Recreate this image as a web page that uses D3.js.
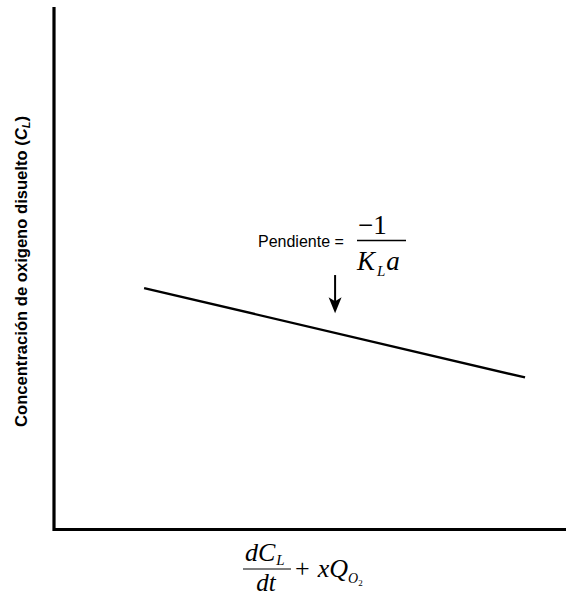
<!DOCTYPE html>
<html><head><meta charset="utf-8">
<script src="https://cdn.jsdelivr.net/npm/d3@7"></script>
<style>body{margin:0;background:#fff}svg{display:block}</style>
</head><body>
<script>
// Schematic data (no ticks in the reference)
const lineX = [1.76, 9.2];
const lineY = [4.62, 2.91];
const arrowX = [5.49];
const arrowY = [4.87, 4.14];
const yLabel = "Concentración de oxigeno disuelto (";
const annotationText = "Pendiente = ";

const W = 566, H = 598;
const svg = d3.select("body").append("svg").attr("width", W).attr("height", H);
const x = d3.scaleLinear().domain([0, 10]).range([54, 566]);
const y = d3.scaleLinear().domain([0, 10]).range([529.5, 7]);

// axes (L shape)
svg.append("path")
  .attr("d", `M${x(0)},${y(10)} V${y(0)} H${x(10)}`)
  .attr("fill", "none").attr("stroke", "#000").attr("stroke-width", 3.2);

// line
svg.append("line")
  .attr("x1", x(lineX[0])).attr("y1", y(lineY[0]))
  .attr("x2", x(lineX[1])).attr("y2", y(lineY[1]))
  .attr("stroke", "#000").attr("stroke-width", 2.4);

// arrow
const ax = x(arrowX[0]);
svg.append("line").attr("x1", ax).attr("x2", ax)
  .attr("y1", y(arrowY[0])).attr("y2", y(arrowY[1]) - 10)
  .attr("stroke", "#000").attr("stroke-width", 2);
svg.append("path")
  .attr("d", `M${ax-6.5},${y(arrowY[1])-16} L${ax},${y(arrowY[1])} L${ax+6.5},${y(arrowY[1])-16} L${ax},${y(arrowY[1])-12} Z`)
  .attr("fill", "#000");

// annotation text
svg.append("text").attr("x", 258).attr("y", 247)
  .attr("font-family", "Liberation Sans, Arial, sans-serif").attr("font-size", 16)
  .text(annotationText);
const serif = "Liberation Serif, Times New Roman, serif";
// fraction -1 / K_L a
svg.append("text").attr("x", 358).attr("y", 234)
  .attr("font-family", serif).attr("font-size", 27).text("\u22121");
svg.append("line").attr("x1", 357).attr("x2", 406).attr("y1", 240.5).attr("y2", 240.5)
  .attr("stroke", "#000").attr("stroke-width", 1.3);
const kt = svg.append("text").attr("x", 357).attr("y", 270)
  .attr("font-family", serif).attr("font-size", 27).attr("font-style", "italic");
kt.append("tspan").text("K");
kt.append("tspan").attr("dx", 2).attr("dy", 6).attr("font-size", 15).text("L");
kt.append("tspan").attr("dx", 1).attr("dy", -6).text("a");

// y label
const yl = svg.append("text")
  .attr("transform", `translate(27,271.5) rotate(-90)`)
  .attr("text-anchor", "middle")
  .attr("font-family", "Liberation Sans, Arial, sans-serif").attr("font-size", 16.6).attr("font-weight", "bold");
yl.append("tspan").text(yLabel);
yl.append("tspan").attr("font-style", "italic").text("C");
yl.append("tspan").attr("font-style", "italic").attr("font-size", 11).attr("dy", 3).text("L");
yl.append("tspan").attr("dy", -3).text(")");

// x label: dC_L/dt + xQ_O2
const n = svg.append("text").attr("x", 245).attr("y", 561)
  .attr("font-family", serif).attr("font-size", 26).attr("font-style", "italic");
n.append("tspan").text("dC");
n.append("tspan").attr("dx", 1).attr("dy", 4).attr("font-size", 15).text("L");
svg.append("line").attr("x1", 243).attr("x2", 291).attr("y1", 569).attr("y2", 569)
  .attr("stroke", "#000").attr("stroke-width", 1.2);
svg.append("text").attr("x", 266).attr("y", 591).attr("text-anchor", "middle")
  .attr("font-family", serif).attr("font-size", 25).attr("font-style", "italic").text("dt");
const r = svg.append("text").attr("x", 295).attr("y", 577)
  .attr("font-family", serif).attr("font-size", 26);
r.append("tspan").text("+");
r.append("tspan").attr("font-style", "italic").attr("dx", 8).text("xQ");
r.append("tspan").attr("font-style", "italic").attr("font-size", 14).attr("dy", 6).text("O");
r.append("tspan").attr("font-size", 9).attr("dy", 3).text("2");
</script>
</body></html>
